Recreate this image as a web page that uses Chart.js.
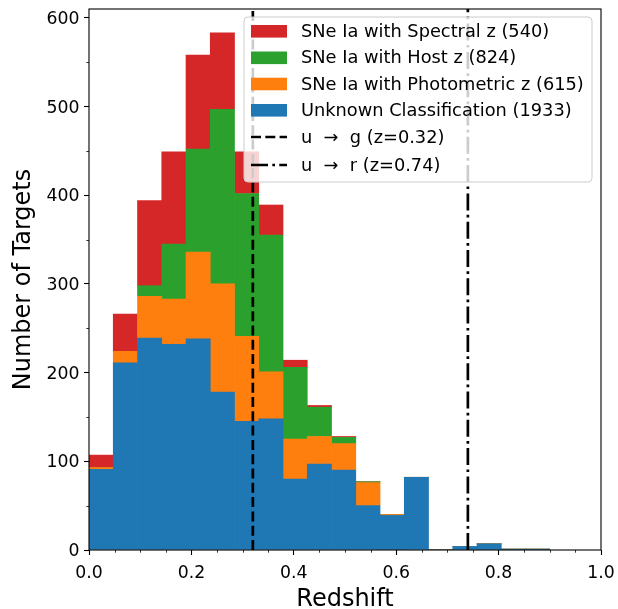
<!DOCTYPE html>
<html>
<head>
<meta charset="utf-8">
<script src="https://cdn.jsdelivr.net/npm/chart.js@4.4.0/dist/chart.umd.min.js"></script>
<style>
  html, body { margin: 0; padding: 0; background: #fff; }
</style>
</head>
<body>
<canvas id="chartCanvas" width="618" height="609"></canvas>
<script>
// Redshift histogram: 19 equal bins between z=0 and z=0.9
const binCount = 19;
const binLow = 0.0;
const binHigh = 0.9;

// Counts per bin (bottom to top of the stack)
const unknownCounts  = [91, 211, 239, 232, 238, 178, 145, 148, 80, 97, 90, 50, 39, 82, 0, 4, 7, 1, 1];
const photoCounts    = [2, 13, 47, 51, 98, 122, 96, 53, 45, 31, 30, 26, 1, 0, 0, 0, 0, 0, 0];
const hostCounts     = [0, 0, 12, 62, 116, 197, 161, 154, 81, 33, 7, 1, 0, 0, 0, 0, 0, 0, 0];
const spectralCounts = [14, 42, 96, 104, 106, 86, 47, 34, 8, 2, 1, 0, 0, 0, 0, 0, 0, 0, 0];

const seriesLabels = [
    'Unknown Classification (1933)',
    'SNe Ia with Photometric z (615)',
    'SNe Ia with Host z (824)',
    'SNe Ia with Spectral z (540)'
];
const seriesColors = ['#1f77b4', '#ff7f0e', '#2ca02c', '#d62728'];

// Filter transition redshifts
const lineRedshifts = [0.32, 0.74];
const lineLabels = ['u  \u2192  g (z=0.32)', 'u  \u2192  r (z=0.74)'];
const lineDashes = [[10, 4.3], [17, 4.3, 2.7, 4.3]];

const xTicks = [0, 0.2, 0.4, 0.6, 0.8, 1.0];
const yTicks = [0, 100, 200, 300, 400, 500, 600];

// Bin centres
const binWidth = (binHigh - binLow) / binCount;
const binCenters = unknownCounts.map((_, i) => binLow + (i + 0.5) * binWidth);

function toPoints(counts) {
    return counts.map((c, i) => ({ x: binCenters[i], y: c }));
}

const barSets = [unknownCounts, photoCounts, hostCounts, spectralCounts].map((counts, i) => ({
    type: 'bar',
    label: seriesLabels[i],
    data: toPoints(counts),
    backgroundColor: seriesColors[i],
    borderWidth: 0,
    barPercentage: 1.0,
    categoryPercentage: 1.0,
    yAxisID: 'y',
    order: 1
}));

const lineSets = lineRedshifts.map((z, i) => ({
    type: 'line',
    label: lineLabels[i],
    data: [{ x: z, y: 0 }, { x: z, y: 1 }],
    borderColor: '#000',
    borderWidth: 2.7,
    borderDash: lineDashes[i],
    pointRadius: 0,
    fill: false,
    yAxisID: 'yLine',
    order: 0
}));

const FONT = 'DejaVu Sans';

// Minor ticks, frame and matplotlib-style legend
const decorPlugin = {
    id: 'decor',
    afterDatasetsDraw(chart) {
        const ctx = chart.ctx;
        const area = chart.chartArea;
        const xs = chart.scales.x;
        const ys = chart.scales.y;

        ctx.save();
        // minor ticks
        ctx.strokeStyle = '#000';
        ctx.lineWidth = 0.8;
        ctx.beginPath();
        for (let v = 0.05; v < 1.0; v += 0.05) {
            if (Math.abs(v / 0.2 - Math.round(v / 0.2)) < 1e-6) continue;
            const px = Math.round(xs.getPixelForValue(v)) + 0.5;
            ctx.moveTo(px, area.bottom);
            ctx.lineTo(px, area.bottom + 2.7);
        }
        for (let v = 50; v < 610; v += 100) {
            const py = Math.round(ys.getPixelForValue(v)) + 0.5;
            ctx.moveTo(area.left, py);
            ctx.lineTo(area.left - 2.7, py);
        }
        ctx.stroke();

        // frame
        ctx.lineWidth = 1.1;
        ctx.strokeRect(area.left, area.top, area.right - area.left, area.bottom - area.top);

        // legend
        const bx = 244, by = 17, bw = 348, bh = 165, r = 4;
        ctx.beginPath();
        ctx.moveTo(bx + r, by);
        ctx.arcTo(bx + bw, by, bx + bw, by + bh, r);
        ctx.arcTo(bx + bw, by + bh, bx, by + bh, r);
        ctx.arcTo(bx, by + bh, bx, by, r);
        ctx.arcTo(bx, by, bx + bw, by, r);
        ctx.closePath();
        ctx.fillStyle = 'rgba(255,255,255,0.8)';
        ctx.fill();
        ctx.strokeStyle = '#cccccc';
        ctx.lineWidth = 1;
        ctx.stroke();

        const rowY = [31.3, 57.8, 84, 110.3, 137, 165];
        const entries = [];
        for (let i = 3; i >= 0; i--) {
            const ds = chart.data.datasets[i];
            entries.push({ kind: 'patch', color: ds.backgroundColor, text: ds.label });
        }
        lineSets.forEach((ds) => entries.push({ kind: 'line', dash: ds.borderDash, text: ds.label }));

        ctx.font = '17.8px "' + FONT + '"';
        ctx.textBaseline = 'middle';
        ctx.textAlign = 'left';
        entries.forEach((e, i) => {
            const cy = rowY[i];
            if (e.kind === 'patch') {
                ctx.fillStyle = e.color;
                ctx.fillRect(251, cy - 6.3, 36, 12.6);
            } else {
                ctx.strokeStyle = '#000';
                ctx.lineWidth = 2.7;
                ctx.setLineDash(e.dash);
                ctx.beginPath();
                ctx.moveTo(251, cy);
                ctx.lineTo(287, cy);
                ctx.stroke();
                ctx.setLineDash([]);
            }
            ctx.fillStyle = '#000';
            ctx.fillText(e.text, 301, cy + 1);
        });
        ctx.restore();
    }
};

const ctx = document.getElementById('chartCanvas').getContext('2d');
const redshiftChart = new Chart(ctx, {
    type: 'bar',
    data: { datasets: barSets.concat(lineSets) },
    options: {
        responsive: false,
        animation: false,
        devicePixelRatio: 1,
        layout: { padding: { left: 0, right: 17, top: 9, bottom: 0 } },
        plugins: {
            legend: { display: false },
            tooltip: { enabled: false }
        },
        scales: {
            x: {
                type: 'linear',
                stacked: true,
                offset: false,
                min: 0,
                max: 1,
                afterBuildTicks: (scale) => { scale.ticks = xTicks.map(v => ({ value: v })); },
                afterFit: (scale) => { scale.height = 59; },
                ticks: {
                    color: '#000',
                    font: { family: FONT, size: 17.3, lineHeight: 1.8 },
                    padding: 3,
                    maxRotation: 0,
                    autoSkip: false,
                    callback: (v) => Number(v).toFixed(1)
                },
                grid: {
                    offset: false,
                    drawOnChartArea: false,
                    drawTicks: true,
                    tickLength: 5,
                    tickColor: '#000',
                    tickWidth: 1.1
                },
                border: { display: false },
                title: {
                    display: true,
                    text: 'Redshift',
                    color: '#000',
                    font: { family: FONT, size: 24, lineHeight: 0.75 },
                    padding: { top: 0, bottom: 0 }
                }
            },
            y: {
                stacked: true,
                min: 0,
                max: 610,
                afterBuildTicks: (scale) => { scale.ticks = yTicks.map(v => ({ value: v })); },
                afterFit: (scale) => { scale.width = 89; },
                ticks: {
                    color: '#000',
                    font: { family: FONT, size: 17.3, lineHeight: 0.5 },
                    padding: 4.5,
                    labelOffset: 1.5
                },
                grid: {
                    drawOnChartArea: false,
                    drawTicks: true,
                    tickLength: 5,
                    tickColor: '#000',
                    tickWidth: 1.1
                },
                border: { display: false },
                title: {
                    display: true,
                    text: 'Number of Targets',
                    color: '#000',
                    font: { family: FONT, size: 24 },
                    padding: { top: 9, bottom: 0 }
                }
            },
            yLine: {
                display: false,
                min: 0,
                max: 1
            }
        }
    },
    plugins: [decorPlugin]
});
</script>
</body>
</html>
